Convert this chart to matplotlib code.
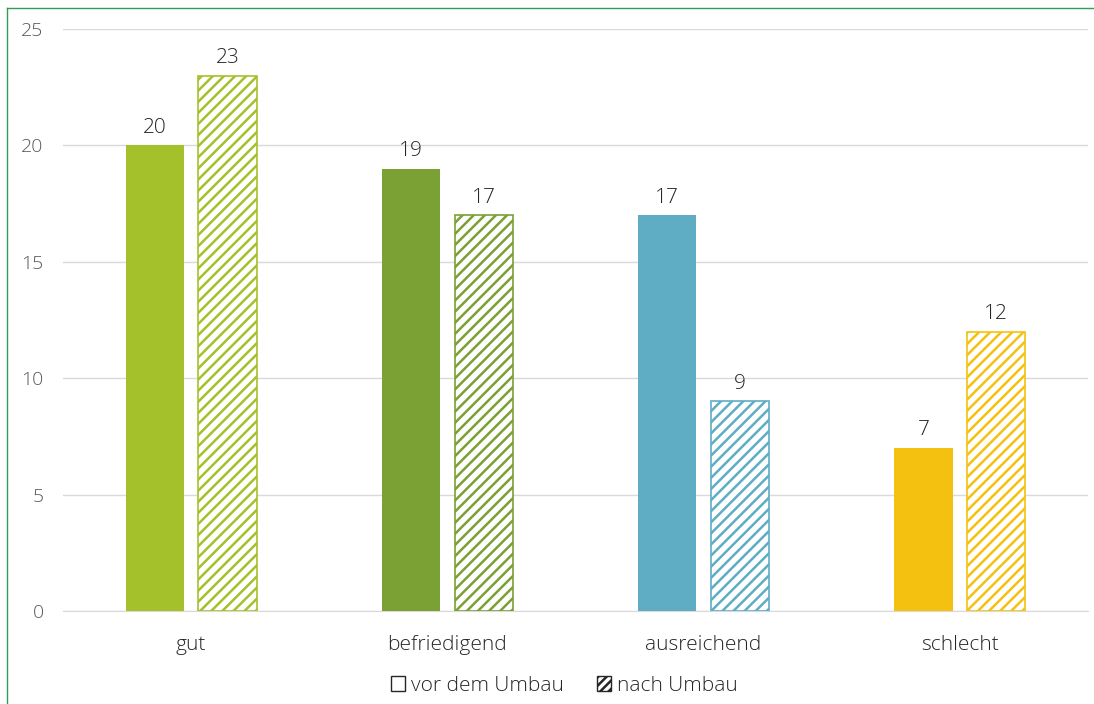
import numpy as np
import matplotlib.pyplot as plt
from matplotlib.patches import Patch
from matplotlib.lines import Line2D

categories = ['gut', 'befriedigend', 'ausreichend', 'schlecht']
vor_umbau = [20, 19, 17, 7]
nach_umbau = [23, 17, 9, 12]
colors = ['#A4C12B', '#7BA034', '#5FADC5', '#F5C111']

plt.rcParams['font.family'] = ['Open Sans', 'DejaVu Sans']
plt.rcParams['font.weight'] = 'light'
plt.rcParams['hatch.linewidth'] = 1.8

fig = plt.figure(figsize=(10.94, 7.04), dpi=100)
ax = fig.add_axes([63 / 1094, 93 / 704, 1025 / 1094, 582 / 704])

x = np.arange(len(categories))
w = 0.227
off = 0.142

bars1 = ax.bar(x - off, vor_umbau, w, color=colors, zorder=3)
bars2 = ax.bar(x + off, nach_umbau, w, facecolor='white', edgecolor=colors,
               hatch='///', linewidth=1.2, zorder=3)

# value labels above bars
for b, v in zip(list(bars1) + list(bars2), vor_umbau + nach_umbau):
    ax.text(b.get_x() + b.get_width() / 2, v + 0.33, str(v), ha='center',
            va='bottom', fontsize=15, color='#262626')

ax.set_xlim(-0.5, 3.5)
ax.set_ylim(0, 25)
ax.set_yticks([0, 5, 10, 15, 20, 25])
ax.set_xticks(x)
ax.set_xticklabels(categories, fontsize=15, color='#262626')
ax.tick_params(axis='y', labelsize=14, labelcolor='#595959', length=0, pad=14)
ax.tick_params(axis='x', length=0, pad=17)
ax.grid(axis='y', color='#D9D9D9', linewidth=1, zorder=0)
for s in ['top', 'right', 'left']:
    ax.spines[s].set_visible(False)
ax.spines['bottom'].set_color('#D9D9D9')

handles = [Patch(facecolor='white', edgecolor='#262626', linewidth=1),
           Patch(facecolor='white', edgecolor='#262626', hatch='////', linewidth=1)]
fig.legend(handles, ['vor dem Umbau', 'nach Umbau'], loc='center',
           bbox_to_anchor=(564 / 1094, 18 / 704), ncol=2, frameon=False,
           fontsize=15, handlelength=0.7, handleheight=0.7, handletextpad=0.25,
           columnspacing=1.6, labelcolor='#262626')

# green frame lines at top and left
fig.add_artist(Line2D([7 / 1094, 1], [1 - 8 / 704, 1 - 8 / 704],
                      transform=fig.transFigure, color='#2E9E5B', linewidth=1))
fig.add_artist(Line2D([7 / 1094, 7 / 1094], [0, 1 - 8 / 704],
                      transform=fig.transFigure, color='#2E9E5B', linewidth=1))

fig.savefig('out.png', dpi=100)
